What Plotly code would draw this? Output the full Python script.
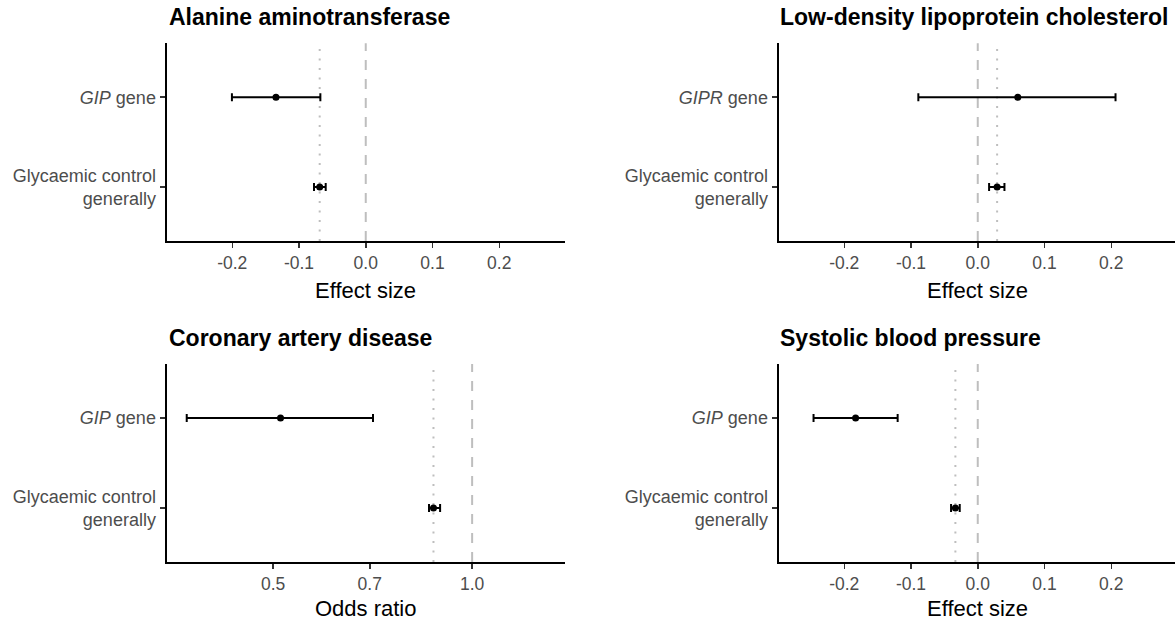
import plotly.graph_objects as go

# ---- data ----
labels_gip = ["Glycaemic control<br>generally", "<i>GIP</i> gene"]
labels_gipr = ["Glycaemic control<br>generally", "<i>GIPR</i> gene"]

# Alanine aminotransferase (effect size)
alt_est = [-0.069, -0.1345]
alt_lo = [-0.0775, -0.2005]
alt_hi = [-0.060, -0.068]

# Low-density lipoprotein cholesterol (effect size)
ldl_est = [0.029, 0.060]
ldl_lo = [0.017, -0.089]
ldl_hi = [0.040, 0.2064]

# Coronary artery disease (odds ratio)
cad_est = [0.874, 0.513]
cad_lo = [0.8605, 0.370]
cad_hi = [0.8944, 0.708]

# Systolic blood pressure (effect size)
sbp_est = [-0.0335, -0.183]
sbp_lo = [-0.040, -0.246]
sbp_hi = [-0.027, -0.120]

titles = ["Alanine aminotransferase", "Low-density lipoprotein cholesterol",
          "Coronary artery disease", "Systolic blood pressure"]
xtitles = ["Effect size", "Effect size", "Odds ratio", "Effect size"]
null_values = [0.0, 0.0, 1.0, 0.0]
effect_ticks = [-0.2, -0.1, 0.0, 0.1, 0.2]
effect_ticktext = ["-0.2", "-0.1", "0.0", "0.1", "0.2"]
or_ticks = [0.5, 0.7, 1.0]
or_ticktext = ["0.5", "0.7", "1.0"]

W, H = 1175, 624
FONT = "Liberation Sans, Arial, sans-serif"

panels = [
    dict(est=alt_est, lo=alt_lo, hi=alt_hi, labels=labels_gip,
         xdom=[166.5 / W, 565 / W], ydom=[1 - 241 / H, 1 - 43.3 / H],
         xrange=[-0.2985, 0.2985], xtype="linear", tv=effect_ticks, tt=effect_ticktext),
    dict(est=ldl_est, lo=ldl_lo, hi=ldl_hi, labels=labels_gipr,
         xdom=[778.5 / W, 1.0], ydom=[1 - 241 / H, 1 - 43.3 / H],
         xrange=[-0.2985, 0.2955], xtype="linear", tv=effect_ticks, tt=effect_ticktext),
    dict(est=cad_est, lo=cad_lo, hi=cad_hi, labels=labels_gip,
         xdom=[166.5 / W, 565 / W], ydom=[1 - 562 / H, 1 - 364 / H],
         xrange=[-0.4624, 0.1405], xtype="log", tv=or_ticks, tt=or_ticktext),
    dict(est=sbp_est, lo=sbp_lo, hi=sbp_hi, labels=labels_gip,
         xdom=[778.5 / W, 1.0], ydom=[1 - 562 / H, 1 - 364 / H],
         xrange=[-0.2985, 0.2955], xtype="linear", tv=effect_ticks, tt=effect_ticktext),
]

fig = go.Figure()
layout = dict(
    width=W, height=H, margin=dict(l=0, r=0, t=0, b=0),
    paper_bgcolor="white", plot_bgcolor="white", showlegend=False,
    font=dict(family=FONT, color="#4D4D4D"),
)
shapes = []
annotations = []

for i, p in enumerate(panels):
    n = "" if i == 0 else str(i + 1)
    xa, ya = "x" + n, "y" + n
    plus = [h - e for h, e in zip(p["hi"], p["est"])]
    minus = [e - l for e, l in zip(p["est"], p["lo"])]
    fig.add_trace(go.Scatter(
        x=p["est"], y=p["labels"], xaxis=xa, yaxis=ya, mode="markers",
        marker=dict(color="black", size=7),
        error_x=dict(type="data", symmetric=False, array=plus, arrayminus=minus,
                     color="black", thickness=2, width=4),
        hoverinfo="skip",
    ))
    layout["xaxis" + n] = dict(
        domain=p["xdom"], anchor=ya, type=p["xtype"], range=p["xrange"],
        tickvals=p["tv"], ticktext=p["tt"], showgrid=False, zeroline=False,
        showline=True, linecolor="black", linewidth=2,
        ticks="outside", ticklen=5, tickwidth=1.5, tickcolor="#333333",
        tickfont=dict(family=FONT, size=17.5, color="#4D4D4D"),
        fixedrange=True,
    )
    layout["yaxis" + n] = dict(
        domain=p["ydom"], anchor=xa, type="category",
        categoryorder="array", categoryarray=p["labels"], range=[-0.6, 1.6],
        showgrid=False, zeroline=False,
        showline=True, linecolor="black", linewidth=2,
        ticks="outside", ticklen=5, tickwidth=1.5, tickcolor="#333333",
        tickfont=dict(family=FONT, size=18, color="#4D4D4D"),
        fixedrange=True,
    )
    # reference lines: null (dashed) and general glycaemic estimate (dotted)
    shapes.append(dict(type="line", xref=xa, yref=ya + " domain",
                       x0=null_values[i], x1=null_values[i], y0=0, y1=1,
                       line=dict(color="#BEBEBE", width=2, dash="10px,9px"), layer="below"))
    shapes.append(dict(type="line", xref=xa, yref=ya + " domain",
                       x0=p["est"][0], x1=p["est"][0], y0=0, y1=1,
                       line=dict(color="#BEBEBE", width=2, dash="2px,7.5px"), layer="below"))
    # panel title
    top_px = 17.3 if i < 2 else 338.3
    annotations.append(dict(
        text="<b>" + titles[i] + "</b>", xref="paper", yref="paper",
        x=p["xdom"][0], y=1 - top_px / H, xanchor="left", yanchor="middle",
        showarrow=False, font=dict(family=FONT, size=23, color="black"),
    ))
    # x axis title
    xt_px = 290 if i < 2 else 608
    cx = (p["xdom"][0] + p["xdom"][0] + 398.5 / W) / 2
    annotations.append(dict(
        text=xtitles[i], xref="paper", yref="paper",
        x=cx, y=1 - xt_px / H, xanchor="center", yanchor="middle",
        showarrow=False, font=dict(family=FONT, size=22, color="black"),
    ))

layout["shapes"] = shapes
layout["annotations"] = annotations
fig.update_layout(**layout)
fig.write_html("out.html",
               config={"displayModeBar": False, "staticPlot": True},
               post_script="document.body.style.margin='0';document.body.style.overflow='hidden';")
